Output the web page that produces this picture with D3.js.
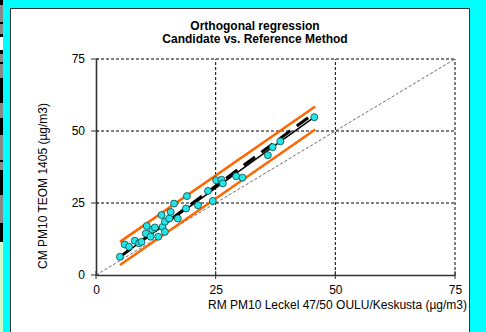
<!DOCTYPE html>
<html><head><meta charset="utf-8">
<script src="https://cdn.jsdelivr.net/npm/d3@7"></script>
<style>html,body{margin:0;padding:0;background:#00ffff;overflow:hidden}text{font-family:"Liberation Sans",Arial,sans-serif}</style>
</head><body>
<script>
const pointsX = [5.0, 6.0, 6.9, 8.1, 9.0, 9.5, 10.4, 10.6, 11.4, 11.8, 12.3, 13.0, 13.7, 13.9, 14.4, 14.4, 15.3, 15.6, 16.3, 17.1, 18.8, 19.0, 21.3, 23.4, 24.4, 25.1, 26.2, 26.5, 29.3, 30.6, 35.9, 36.9, 38.5, 45.6];
const pointsY = [6.3, 10.6, 9.8, 11.9, 11.0, 11.5, 14.4, 17.0, 13.3, 15.8, 16.5, 13.3, 20.8, 16.7, 15.0, 18.5, 19.6, 21.9, 24.8, 19.6, 23.1, 27.4, 24.2, 29.2, 25.7, 32.9, 33.1, 31.8, 34.3, 33.8, 41.6, 44.4, 46.4, 54.8];
const regX = [5.0, 45.6], regY = [6.3, 54.8];
const reg2X = [5.0, 45.6], reg2Y = [6.3, 56.2];
const upperX = [5.0, 45.8], upperY = [11.5, 58.5];
const lowerX = [5.0, 45.8], lowerY = [3.5, 50.5];
const diagX = [0, 75], diagY = [0, 75];
const ticks = [0, 25, 50, 75];
const titleLines = ["Orthogonal regression", "Candidate vs. Reference Method"];
const xLabel = "RM PM10 Leckel 47/50 OULU/Keskusta (µg/m3)";
const yLabel = "CM PM10 TEOM 1405  (µg/m3)";

const W = 486, H = 332;
const svg = d3.select("body").append("svg").attr("width", W).attr("height", H);
svg.append("rect").attr("width", W).attr("height", H).attr("fill", "#00ffff");
// left strip decoration
svg.append("rect").attr("x", 0).attr("y", 0).attr("width", 3).attr("height", 242).attr("fill", "#000");
[[5,22],[24,34],[54,62],[64,78],[103,118],[135,160],[162,170],[195,223]].forEach(s =>
  svg.append("rect").attr("x", 0).attr("y", s[0]).attr("width", 3).attr("height", s[1]-s[0]).attr("fill", "#888"));
svg.append("rect").attr("x", 0).attr("y", 37).attr("width", 3).attr("height", 13).attr("fill", "#fff");
svg.append("rect").attr("x", 0).attr("y", 242).attr("width", 3).attr("height", 90).attr("fill", "#ccffcc");
// panel
svg.append("rect").attr("x", 10.5).attr("y", 8.5).attr("width", 459).attr("height", 330)
  .attr("fill", "#fff").attr("stroke", "#333").attr("stroke-width", 1);

const x = d3.scaleLinear().domain([0, 75]).range([96, 455]);
const y = d3.scaleLinear().domain([0, 75]).range([275, 59]);

// grid
const g = svg.append("g");
ticks.filter(t => t > 0).forEach(t => {
  g.append("line").attr("x1", x(t)).attr("x2", x(t)).attr("y1", y(0)).attr("y2", y(75))
    .attr("stroke", "#000").attr("stroke-width", 1).attr("stroke-dasharray", "3,2");
  g.append("line").attr("x1", x(0)).attr("x2", x(75)).attr("y1", y(t)).attr("y2", y(t))
    .attr("stroke", "#000").attr("stroke-width", 1).attr("stroke-dasharray", "3,2");
});

// axes
const xAxis = d3.axisBottom(x).tickValues(ticks).tickSize(0).tickPadding(10);
const yAxis = d3.axisLeft(y).tickValues(ticks).tickSize(0).tickPadding(11);
const gx = svg.append("g").attr("transform", `translate(0,${y(0)})`).call(xAxis);
const gy = svg.append("g").attr("transform", `translate(${x(0)},0)`).call(yAxis);
[gx, gy].forEach(a => {
  a.select(".domain").attr("stroke", "#333").attr("stroke-width", 1.6);
  a.selectAll("text").attr("font-size", 12).attr("fill", "#000")
    .attr("font-family", '"Liberation Sans", Arial, sans-serif');
});
// crossing tick marks
ticks.forEach(t => {
  svg.append("line").attr("x1", x(t)).attr("x2", x(t)).attr("y1", y(0) - 4).attr("y2", y(0) + 4).attr("stroke", "#333").attr("stroke-width", 1);
  svg.append("line").attr("x1", x(0) - 5).attr("x2", x(0) + 3).attr("y1", y(t)).attr("y2", y(t)).attr("stroke", "#333").attr("stroke-width", 1);
});

const line = d3.line().x(d => x(d[0])).y(d => y(d[1]));
const pairs = (xs, ys) => xs.map((v, i) => [v, ys[i]]);
svg.append("path").attr("d", line(pairs(diagX, diagY))).attr("fill", "none")
  .attr("stroke", "#444").attr("stroke-width", 0.8).attr("stroke-dasharray", "3,2");
svg.append("path").attr("d", line(pairs(upperX, upperY))).attr("fill", "none")
  .attr("stroke", "#ff6600").attr("stroke-width", 2.5);
svg.append("path").attr("d", line(pairs(lowerX, lowerY))).attr("fill", "none")
  .attr("stroke", "#ff6600").attr("stroke-width", 2.5);
svg.append("path").attr("d", line(pairs(reg2X, reg2Y))).attr("fill", "none")
  .attr("stroke", "#000").attr("stroke-width", 3).attr("stroke-dasharray", "14,8");
svg.append("path").attr("d", line(pairs(regX, regY))).attr("fill", "none")
  .attr("stroke", "#000").attr("stroke-width", 1.5);

svg.append("g").selectAll("circle").data(pairs(pointsX, pointsY)).join("circle")
  .attr("cx", d => x(d[0])).attr("cy", d => y(d[1])).attr("r", 3.5)
  .attr("fill", "#22e6e6").attr("stroke", "#114444").attr("stroke-width", 0.8);

// titles
titleLines.forEach((t, i) => svg.append("text").attr("x", 255).attr("y", 30 + i * 13)
  .attr("text-anchor", "middle").attr("font-size", 12).attr("font-weight", "bold").text(t));
svg.append("text").attr("x", 467).attr("y", 309).attr("text-anchor", "end").attr("font-size", 12).text(xLabel);
svg.append("text").attr("transform", "translate(47,186) rotate(-90)").attr("text-anchor", "middle")
  .attr("font-size", 12).text(yLabel);
</script>
</body></html>
